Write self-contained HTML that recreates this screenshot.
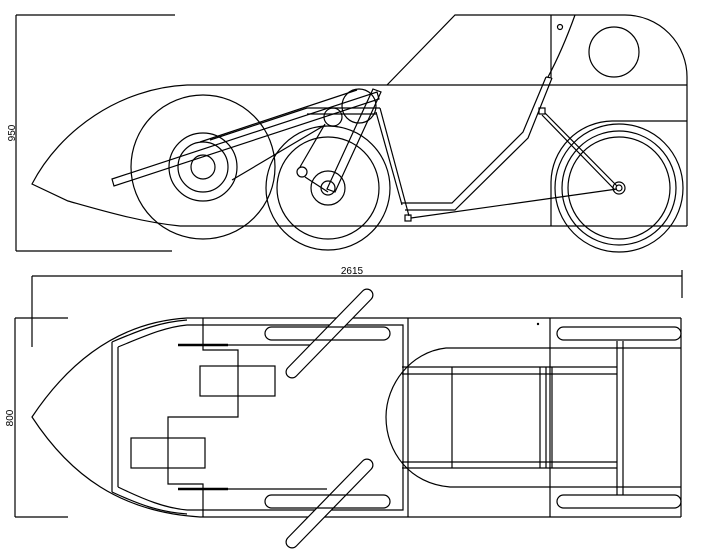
<!DOCTYPE html>
<html><head><style>html,body{margin:0;padding:0;background:#fff}svg{display:block}</style></head>
<body>
<svg width="716" height="555" viewBox="0 0 716 555" xmlns="http://www.w3.org/2000/svg" fill="none" stroke="#000" stroke-width="1.2">
<!-- side view dims -->
<line x1="16" y1="15" x2="175" y2="15"/><line x1="16" y1="251" x2="172" y2="251"/>
<line x1="16" y1="15" x2="16" y2="251"/>
<text x="15" y="133" transform="rotate(-90 15 133)" font-family="Liberation Sans, sans-serif" font-size="10" fill="#000" stroke="none" text-anchor="middle">950</text>
<!-- body -->
<path d="M187,85 C120,88 60,130 32,184 L68,201 C100,210 140,222 180,226"/>
<line x1="187" y1="85" x2="687" y2="85"/>
<line x1="180" y1="226" x2="687" y2="226"/>
<path d="M387,85 L455,15 L625,15 A62,62 0 0 1 687,78 L687,226"/>
<line x1="551" y1="15" x2="551" y2="77"/>
<path d="M575,15 C566,40 556,62 548,77"/>
<circle cx="560" cy="27" r="2.5"/>
<circle cx="614" cy="52" r="25"/>
<path d="M687,121 L612,121 A62,62 0 0 0 551,182 L551,226"/>
<!-- rear drive -->
<circle cx="203" cy="167" r="72"/>
<circle cx="203" cy="167" r="34"/>
<circle cx="203" cy="167" r="25"/>
<circle cx="203" cy="167" r="12"/>
<!-- middle wheel -->
<circle cx="328" cy="188" r="62"/>
<circle cx="328" cy="188" r="51"/>
<circle cx="328" cy="188" r="17"/>
<circle cx="328" cy="188" r="7"/>
<circle cx="333" cy="117" r="9"/>
<circle cx="359" cy="106" r="17"/>
<circle cx="302" cy="172" r="5"/>
<!-- tube -->
<polygon points="112,179 377,92 379,99 114,186"/>
<line x1="200" y1="142" x2="357" y2="90"/>
<line x1="307" y1="108" x2="380" y2="108"/><line x1="307" y1="114" x2="376" y2="114"/>
<line x1="307" y1="108" x2="210" y2="140"/>
<line x1="232" y1="180" x2="325" y2="125"/>
<line x1="325" y1="124" x2="300" y2="167"/>
<line x1="305" y1="177" x2="328" y2="192"/>
<polygon points="373,89 381,92 335,192 327,189"/>
<!-- frame -->
<line x1="380" y1="108" x2="409" y2="216"/><line x1="376" y1="112" x2="402" y2="205"/>
<polyline points="402,203 452,203 523,132 546,77"/>
<polyline points="405,210 455,210 528,138 552,78"/>
<line x1="546" y1="77" x2="552" y2="78"/>
<rect x="405" y="215" width="6" height="6"/>
<rect x="539" y="108" width="6" height="6"/>
<line x1="545" y1="113" x2="617" y2="186"/><line x1="542" y1="115" x2="615" y2="190"/>
<line x1="411" y1="218" x2="617" y2="189"/>
<!-- front wheel -->
<circle cx="619" cy="188" r="64"/>
<circle cx="619" cy="188" r="57"/>
<circle cx="619" cy="188" r="51"/>
<circle cx="619" cy="188" r="6"/>
<circle cx="619" cy="188" r="3"/>

<!-- top view dims -->
<line x1="32" y1="276" x2="682" y2="276"/>
<line x1="682" y1="270" x2="682" y2="298"/>
<line x1="32" y1="276" x2="32" y2="347"/>
<text x="352" y="274" font-family="Liberation Sans, sans-serif" font-size="10" fill="#000" stroke="none" text-anchor="middle">2615</text>
<line x1="15" y1="318" x2="68" y2="318"/><line x1="15" y1="517" x2="68" y2="517"/>
<line x1="15" y1="318" x2="15" y2="517"/>
<text x="13" y="418" transform="rotate(-90 13 418)" font-family="Liberation Sans, sans-serif" font-size="10" fill="#000" stroke="none" text-anchor="middle">800</text>
<!-- outline -->
<path d="M187,318 C120,322 70,360 32,417 C70,475 120,512 200,517"/>
<line x1="187" y1="318" x2="681" y2="318"/>
<line x1="200" y1="517" x2="681" y2="517"/>
<line x1="681" y1="318" x2="681" y2="517"/>
<path d="M112,342 C140,330 160,322 187,320"/><path d="M118,347 C145,336 165,327 187,325"/>
<path d="M112,492 C140,505 160,512 187,514"/><path d="M118,487 C145,500 165,508 187,510"/>
<line x1="112" y1="342" x2="112" y2="492"/><line x1="118" y1="347" x2="118" y2="487"/>
<polyline points="187,325 403,325 403,510 187,510"/>
<polyline points="203,318 203,350 238,350 238,417 168,417 168,484 203,484 203,517"/>
<line x1="178" y1="345" x2="228" y2="345" stroke-width="2.5"/><line x1="228" y1="345" x2="327" y2="345"/>
<line x1="178" y1="489" x2="228" y2="489" stroke-width="2.5"/><line x1="228" y1="489" x2="327" y2="489"/>
<rect x="200" y="366" width="75" height="30"/>
<rect x="131" y="438" width="74" height="30"/>
<!-- pedals -->
<line x1="367" y1="295" x2="292" y2="372" stroke-width="13" stroke-linecap="round"/>
<line x1="367" y1="295" x2="292" y2="372" stroke="#fff" stroke-width="10.6" stroke-linecap="round"/>
<line x1="367" y1="465" x2="292" y2="542" stroke-width="13" stroke-linecap="round"/>
<line x1="367" y1="465" x2="292" y2="542" stroke="#fff" stroke-width="10.6" stroke-linecap="round"/>
<rect x="265" y="327" width="125" height="13" rx="6.5"/>
<rect x="265" y="495" width="125" height="13" rx="6.5"/>
<rect x="557" y="327" width="124" height="13" rx="6.5"/>
<rect x="557" y="495" width="124" height="13" rx="6.5"/>
<line x1="408" y1="318" x2="408" y2="517"/>
<line x1="550" y1="318" x2="550" y2="517"/>
<line x1="617" y1="341" x2="617" y2="495"/><line x1="623" y1="341" x2="623" y2="495"/>
<path d="M681,348 L446,348 C410,352 386,385 386,417 C386,452 410,484 450,487 L681,487"/>
<line x1="402" y1="367" x2="617" y2="367"/><line x1="402" y1="374" x2="617" y2="374"/>
<line x1="402" y1="462" x2="617" y2="462"/><line x1="402" y1="468" x2="617" y2="468"/>
<line x1="452" y1="367" x2="452" y2="468"/>
<line x1="540" y1="367" x2="540" y2="468"/><line x1="546" y1="367" x2="546" y2="468"/><line x1="552" y1="367" x2="552" y2="468"/>
<circle cx="538" cy="324" r="0.6" fill="#000"/>
</svg>
</body></html>
